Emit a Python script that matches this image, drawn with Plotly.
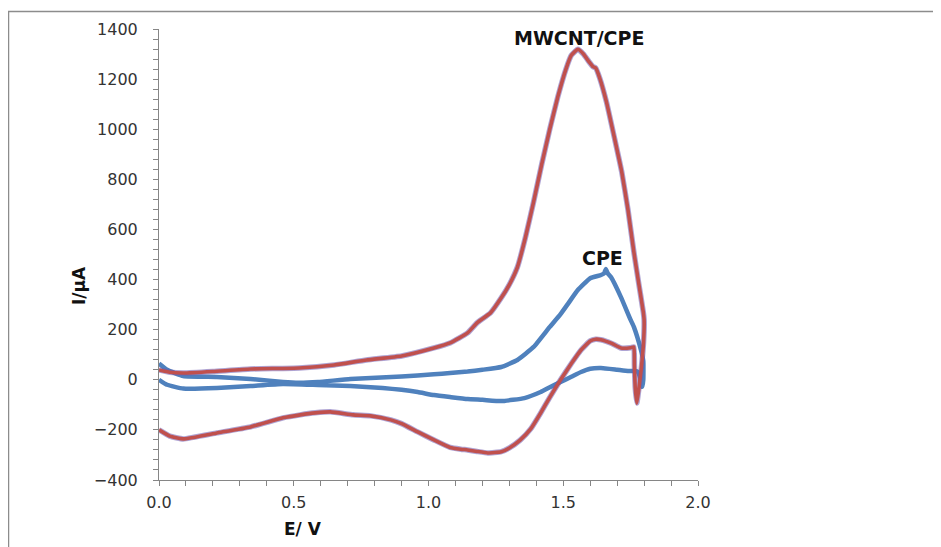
import plotly.graph_objects as go

# MWCNT/CPE cyclic voltammogram (E in V, I in µA)
mwcnt_E = [0.00, 0.04, 0.09, 0.20, 0.34, 0.52, 0.65, 0.77, 0.90, 1.02, 1.08, 1.145, 1.18, 1.23, 1.27,
           1.30, 1.33, 1.36, 1.39, 1.42, 1.45, 1.48, 1.51, 1.53, 1.554, 1.575, 1.595, 1.61, 1.62,
           1.635, 1.66, 1.69, 1.717, 1.74, 1.762, 1.78, 1.797, 1.800, 1.798, 1.790, 1.780, 1.773,
           1.767, 1.764, 1.762, 1.75, 1.714, 1.68, 1.64, 1.62, 1.60, 1.566, 1.53, 1.49, 1.45,
           1.416, 1.38, 1.34, 1.30, 1.27, 1.22, 1.18, 1.145, 1.12, 1.08, 1.02, 0.96, 0.90, 0.86,
           0.785, 0.72, 0.636, 0.58, 0.524, 0.46, 0.34, 0.215, 0.09, 0.04, 0.00]
mwcnt_I = [39, 30, 27, 33, 43, 47, 59, 79, 95, 127, 147, 187, 227, 267, 327,
           380, 450, 570, 710, 860, 1000, 1130, 1240, 1295, 1319, 1300, 1270, 1250, 1245,
           1205, 1110, 965, 830, 680, 510, 385, 270, 240, 150, 50, -40, -93,
           -30, 60, 131, 128, 127, 145, 160, 162, 155, 119, 65, 0, -70,
           -133, -195, -241, -272, -287, -292, -286, -280, -277, -270, -240, -208, -175, -160,
           -144, -140, -128, -132, -140, -152, -188, -212, -236, -225, -200]

# CPE cyclic voltammogram
cpe_E = [0.00, 0.03, 0.09, 0.215, 0.34, 0.46, 0.52, 0.59, 0.71, 0.90, 1.02, 1.08, 1.145, 1.20,
         1.27, 1.33, 1.39, 1.45, 1.49, 1.52, 1.554, 1.60, 1.64, 1.652, 1.658, 1.665, 1.677,
         1.714, 1.75, 1.762, 1.788, 1.797, 1.797, 1.793, 1.785, 1.775, 1.76, 1.74, 1.70, 1.64,
         1.60, 1.566, 1.53, 1.49, 1.45, 1.416, 1.356, 1.27, 1.20, 1.145, 1.08, 1.02, 0.96, 0.90,
         0.83, 0.71, 0.59, 0.46, 0.34, 0.215, 0.09, 0.03, 0.00]
cpe_I = [65, 40, 15, 11, 3, -9, -12, -9, 3, 13, 22, 27, 33, 40,
         51, 79, 131, 211, 262, 307, 358, 405, 418, 425, 442, 425, 410,
         330, 239, 211, 120, 75, 0, -28, 10, 33, 35, 35, 40, 47,
         44, 31, 12, -9, -30, -49, -73, -85, -80, -77, -69, -61, -49, -40,
         -33, -25, -21, -17, -25, -33, -35, -20, 0]

x_ticks = [0.0, 0.5, 1.0, 1.5, 2.0]
x_tick_text = ["0.0", "0.5", "1.0", "1.5", "2.0"]
y_ticks = [-400, -200, 0, 200, 400, 600, 800, 1000, 1200, 1400]

# the page body adds an 8px offset, so the figure is drawn a little smaller
OFF = 8
W, H = 933, 539
L, R, T, B = 151, 243, 21, 67
pw, ph = W - L - R, H - T - B

def px(xp):  # page pixel x -> paper
    return (xp - OFF - L) / pw

def py(yp):  # page pixel y -> paper
    return (H - B - (yp - OFF)) / ph

RED = "#C0504D"
BLUE = "#4F81BD"
AXIS = "#868686"
FONT = "DejaVu Sans"

fig = go.Figure()
fig.add_trace(go.Scatter(x=cpe_E, y=cpe_I, mode="lines",
                         line=dict(color=BLUE, width=4.5, shape="spline", smoothing=0.4),
                         hoverinfo="skip"))
fig.add_trace(go.Scatter(x=mwcnt_E, y=mwcnt_I, mode="lines",
                         line=dict(color="rgba(110,90,175,0.55)", width=5.5, shape="spline", smoothing=0.4),
                         hoverinfo="skip"))
fig.add_trace(go.Scatter(x=mwcnt_E, y=mwcnt_I, mode="lines",
                         line=dict(color=RED, width=3.6, shape="spline", smoothing=0.4),
                         hoverinfo="skip"))

tickfont = dict(family=FONT, size=16, color="#333333")

def label(text, xp, yp, size, angle=0):
    return dict(text=text, x=px(xp), y=py(yp), xref="paper", yref="paper",
                xanchor="center", yanchor="middle", showarrow=False, textangle=angle,
                font=dict(family=FONT, size=size, color="#111111"))

fig.update_layout(
    width=W, height=H,
    margin=dict(l=L, r=R, t=T, b=B, pad=0),
    paper_bgcolor="white", plot_bgcolor="white",
    showlegend=False,
    xaxis=dict(range=[0, 2], tickvals=x_ticks, ticktext=x_tick_text,
               showgrid=False, zeroline=False, showline=True, linecolor=AXIS, linewidth=1,
               ticks="outside", ticklen=5, tickcolor=AXIS, tickwidth=1,
               minor=dict(ticks="outside", dtick=0.1, ticklen=5, tickcolor=AXIS, tickwidth=1),
               tickfont=tickfont, ticklabelstandoff=3),
    yaxis=dict(range=[-400, 1400], tickvals=y_ticks,
               showgrid=False, zeroline=False, showline=True, linecolor=AXIS, linewidth=1,
               ticks="outside", ticklen=5, tickcolor=AXIS, tickwidth=1,
               minor=dict(ticks="outside", dtick=40, ticklen=5, tickcolor=AXIS, tickwidth=1),
               tickfont=tickfont, ticklabelstandoff=12),
    shapes=[dict(type="rect", xref="paper", yref="paper",
                 x0=px(8.5), x1=px(960), y0=py(570), y1=py(11.5),
                 line=dict(color="#8c8c8c", width=1.5), fillcolor="rgba(0,0,0,0)", layer="below")],
    annotations=[
        label("<b>MWCNT/CPE</b>", 579, 38, 19),
        label("<b>CPE</b>", 602, 258, 19),
        label("<b>E/ V</b>", 303, 529, 17),
        label("<b>I/μA</b>", 79, 286, 17, -90),
    ],
)

fig.write_html("out.html")
